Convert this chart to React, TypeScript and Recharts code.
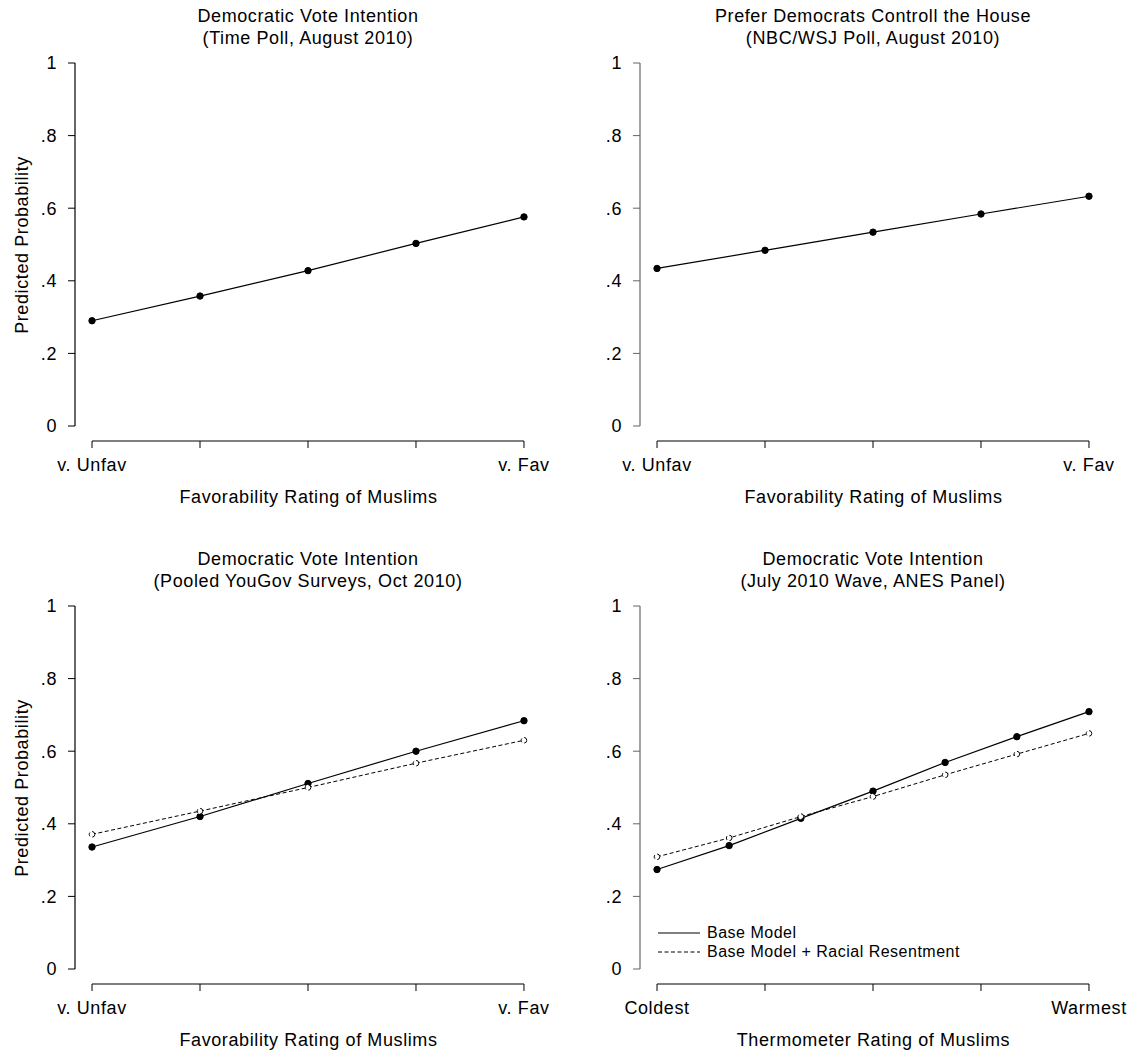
import React from 'react';
import { LineChart, Line, XAxis, YAxis, ReferenceLine, Legend, Label } from 'recharts';

const FONT = '"Liberation Sans", Arial, Helvetica, sans-serif';
const TEXT = { fontSize: 18, fill: '#000', fontFamily: FONT, letterSpacing: 0.6 };

// axis ticks and labels
const xTicks = [0, 0.25, 0.5, 0.75, 1];
const yTicks = [0, 0.2, 0.4, 0.6, 0.8, 1];
const favEnds = ['v. Unfav', 'v. Fav'];
const thermoEnds = ['Coldest', 'Warmest'];

// x positions of the predicted points
const favLevels = [0, 0.25, 0.5, 0.75, 1];
const thermoLevels = [0, 0.167, 0.333, 0.5, 0.667, 0.833, 1];

// predicted probabilities
const timeBase = [0.29, 0.358, 0.428, 0.503, 0.576];
const nbcBase = [0.434, 0.484, 0.534, 0.584, 0.633];
const yougovBase = [0.336, 0.42, 0.511, 0.6, 0.684];
const yougovRacial = [0.371, 0.435, 0.5, 0.567, 0.63];
const anesBase = [0.274, 0.34, 0.415, 0.49, 0.569, 0.64, 0.709];
const anesRacial = [0.309, 0.361, 0.42, 0.475, 0.535, 0.592, 0.649];

// domains leave a little room so the axes sit apart, Stata style
const X_DOMAIN: [number, number] = [-0.0394, 1.0093];
const Y_DOMAIN: [number, number] = [-0.0413, 1];

const makeRows = (xs: number[], base: number[], racial?: number[]) =>
  xs.map((x, i) => ({ x, base: base[i], racial: racial ? racial[i] : undefined }));

const yFmt = (v: number) => (v === 0 ? '0' : v === 1 ? '1' : `.${Math.round(v * 10)}`);

const LegendBox = ({ payload }: any) => (
  <div style={{ fontFamily: FONT, fontSize: 16, letterSpacing: 0.5, color: '#000' }}>
    {(payload || []).map((entry: any) => (
      <div key={entry.value} style={{ display: 'flex', alignItems: 'center', height: 19 }}>
        <svg width={42} height={4} style={{ display: 'block' }}>
          <line
            x1={0}
            y1={2}
            x2={42}
            y2={2}
            stroke="#000"
            strokeWidth={1}
            strokeDasharray={entry.dataKey === 'racial' ? '4 2.5' : undefined}
          />
        </svg>
        <span style={{ marginLeft: 7, lineHeight: '19px', whiteSpace: 'nowrap' }}>{entry.value}</span>
      </div>
    ))}
  </div>
);

interface PanelProps {
  left: number;
  top: number;
  title: string[];
  rows: any[];
  ends: string[];
  xTitle: string;
  showYLabel?: boolean;
  yColor?: string;
  showLegend?: boolean;
  hasRacial?: boolean;
}

const Panel: React.FC<PanelProps> = ({
  left, top, title, rows, ends, xTitle, showYLabel, yColor = '#000', showLegend, hasRacial,
}) => {
  return (
    <div style={{ position: 'absolute', left, top, width: 565, height: 510 }}>
      <div
        style={{
          position: 'absolute', left: 58, top: 5, width: 500, textAlign: 'center',
          fontFamily: FONT, fontSize: 18, letterSpacing: 0.6, lineHeight: '22px', color: '#000',
        }}
      >
        {title.map((t) => (
          <div key={t}>{t}</div>
        ))}
      </div>
      <LineChart width={565} height={510} data={rows} margin={{ top: 63, right: 37, bottom: 0, left: 0 }}>
        <XAxis
          dataKey="x"
          type="number"
          domain={X_DOMAIN}
          ticks={xTicks}
          allowDataOverflow
          axisLine={false}
          tickLine={{ stroke: '#000' }}
          tickSize={7}
          tickMargin={10}
          height={69}
          tick={TEXT}
          tickFormatter={(v: number) => (v === 0 ? ends[0] : v === 1 ? ends[1] : '')}
          interval={0}
        >
          <Label value={xTitle} position="insideBottom" offset={7} dx={7} style={TEXT} />
        </XAxis>
        <YAxis
          type="number"
          domain={Y_DOMAIN}
          ticks={yTicks}
          allowDataOverflow
          axisLine={false}
          tickLine={{ stroke: yColor }}
          tickSize={7}
          tickMargin={11}
          width={75}
          tick={TEXT}
          tickFormatter={yFmt}
          interval={0}
        >
          {showYLabel && (
            <Label
              value="Predicted Probability"
              angle={-90}
              position="insideLeft"
              offset={22}
              dy={-7}
              style={{ ...TEXT, textAnchor: 'middle' }}
            />
          )}
        </YAxis>
        <ReferenceLine
          segment={[{ x: X_DOMAIN[0], y: 0 }, { x: X_DOMAIN[0], y: 1 }]}
          stroke={yColor}
          strokeWidth={1.2}
          ifOverflow="visible"
        />
        <ReferenceLine
          segment={[{ x: 0, y: Y_DOMAIN[0] }, { x: 1, y: Y_DOMAIN[0] }]}
          stroke="#000"
          strokeWidth={1.2}
          ifOverflow="visible"
        />
        {showLegend && (
          <Legend
            layout="vertical"
            align="center"
            verticalAlign="middle"
            content={<LegendBox />}
            wrapperStyle={{ left: 93, top: 380, width: 'auto' }}
          />
        )}
        <Line
          dataKey="base"
          name="Base Model"
          stroke="#000"
          strokeWidth={1.2}
          dot={{ r: 3.2, fill: '#000', stroke: '#000', strokeWidth: 1 }}
          activeDot={false}
          isAnimationActive={false}
        />
        {hasRacial && (
          <Line
            dataKey="racial"
            name="Base Model + Racial Resentment"
            stroke="#000"
            strokeWidth={1}
            strokeDasharray="4 2.5"
            dot={{ r: 2.8, fill: '#fff', stroke: '#000', strokeWidth: 1 }}
            activeDot={false}
            isAnimationActive={false}
          />
        )}
      </LineChart>
    </div>
  );
};

export default function App() {
  return (
    <div
      style={{
        position: 'absolute', left: 0, top: 0, width: 1133, height: 1053,
        overflow: 'hidden', background: '#fff',
      }}
    >
      <Panel
        left={0}
        top={0}
        title={['Democratic Vote Intention', '(Time Poll, August 2010)']}
        rows={makeRows(favLevels, timeBase)}
        ends={favEnds}
        xTitle="Favorability Rating of Muslims"
        showYLabel
      />
      <Panel
        left={565}
        top={0}
        title={['Prefer Democrats Controll the House', '(NBC/WSJ Poll, August 2010)']}
        rows={makeRows(favLevels, nbcBase)}
        ends={favEnds}
        xTitle="Favorability Rating of Muslims"
        yColor="#666"
      />
      <Panel
        left={0}
        top={543}
        title={['Democratic Vote Intention', '(Pooled YouGov Surveys, Oct 2010)']}
        rows={makeRows(favLevels, yougovBase, yougovRacial)}
        ends={favEnds}
        xTitle="Favorability Rating of Muslims"
        showYLabel
        hasRacial
      />
      <Panel
        left={565}
        top={543}
        title={['Democratic Vote Intention', '(July 2010 Wave, ANES Panel)']}
        rows={makeRows(thermoLevels, anesBase, anesRacial)}
        ends={thermoEnds}
        xTitle="Thermometer Rating of Muslims"
        yColor="#666"
        showLegend
        hasRacial
      />
    </div>
  );
}
